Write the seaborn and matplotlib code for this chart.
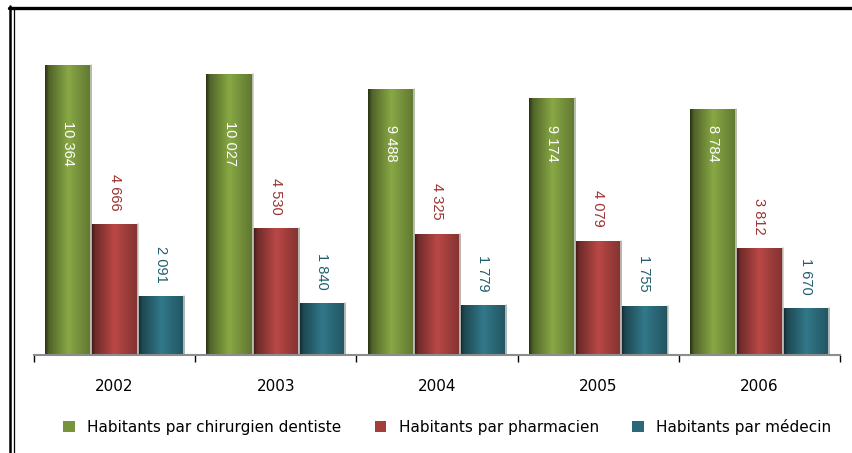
import matplotlib
matplotlib.use("Agg")
import matplotlib.pyplot as plt
from matplotlib.colors import to_rgb
from matplotlib.lines import Line2D
from matplotlib.patches import Patch
import numpy as np
import pandas as pd
import seaborn as sns

# ── Données ───────────────────────────────────────────────────────
annees = ["2002", "2003", "2004", "2005", "2006"]
series = [
    "Habitants par chirurgien dentiste",
    "Habitants par pharmacien",
    "Habitants par médecin",
]
dentiste = [10364, 10027, 9488, 9174, 8784]
pharmacien = [4666, 4530, 4325, 4079, 3812]
medecin = [2091, 1840, 1779, 1755, 1670]

COULEURS = ["#77933C", "#A23F3D", "#2B6978"]
COULEURS_TEXTE = ["white", "#9B3230", "#1F5F6E"]

sns.set_theme(style="white")
plt.rcParams["font.family"] = ["DejaVu Sans"]
plt.rcParams["text.color"] = "black"

df = pd.DataFrame({
    "annee": annees * 3,
    "serie": [series[0]] * 5 + [series[1]] * 5 + [series[2]] * 5,
    "valeur": dentiste + pharmacien + medecin,
})

fig = plt.figure(figsize=(8.52, 4.53), dpi=100)
ax = fig.add_axes([34 / 852, 1 - 355 / 453, 806 / 852, 308 / 453])

sns.barplot(
    data=df, x="annee", y="valeur", hue="serie", hue_order=series,
    palette=COULEURS, saturation=1, width=0.86, legend=False, ax=ax,
    edgecolor="none",
)
ax.set_xlim(-0.5, 4.5)
ax.set_ylim(0, 11000)

# effet cylindre : dégradé horizontal dans chaque barre
pos = [0.0, 0.08, 0.5, 0.7, 1.0]
fac = [0.35, 0.68, 1.15, 1.0, 0.8]
xs = np.linspace(0, 1, 64)
profil = np.interp(xs, pos, fac)
barres = list(ax.patches)
for i, barre in enumerate(barres):
    base = np.array(to_rgb(COULEURS[i // 5]))
    grad = np.clip(profil[:, None] * base[None, :], 0, 1)[None, :, :]
    x0, w, h = barre.get_x(), barre.get_width(), barre.get_height()
    im = ax.imshow(grad, extent=[x0, x0 + w, 0, h], aspect="auto",
                   interpolation="bicubic", zorder=barre.get_zorder() + 0.1)
    im.set_clip_path(barre)
    ax.plot([x0 + w, x0 + w], [0, h], color="#C8CCC8", lw=1.2,
            zorder=barre.get_zorder() + 0.2)
ax.set_xlim(-0.5, 4.5)
ax.set_ylim(0, 11000)


def fmt(v):
    return f"{v:,}".replace(",", " ")


valeurs = [dentiste, pharmacien, medecin]
for i, barre in enumerate(barres):
    s, j = i // 5, i % 5
    xc = barre.get_x() + barre.get_width() / 2
    v = valeurs[s][j]
    if s == 0:
        ax.text(xc, 7550, fmt(v), rotation=-90, ha="center", va="center",
                color="white", fontsize=10.5, family="Liberation Sans", zorder=5)
    else:
        ax.annotate(fmt(v), (xc, v), xytext=(0, 10), textcoords="offset points",
                    rotation=-90, ha="center", va="bottom",
                    color=COULEURS_TEXTE[s], fontsize=10.5,
                    family="Liberation Sans", zorder=5)

# axes
for cote in ["top", "right", "left"]:
    ax.spines[cote].set_visible(False)
ax.spines["bottom"].set_color("#8C8C8C")
ax.spines["bottom"].set_linewidth(1.5)
ax.set_yticks([])
ax.set_xlabel("")
ax.set_ylabel("")
ax.set_xticks(np.arange(-0.5, 5, 1), minor=True)
ax.tick_params(axis="x", which="minor", length=5, width=1, color="black",
               direction="out", bottom=True)
ax.tick_params(axis="x", which="major", length=0, pad=17, labelsize=11,
               labelcolor="black")

# légende
poignees = [Patch(facecolor=c, edgecolor="none") for c in COULEURS]
leg = fig.legend(poignees, series, loc="center", ncol=3,
                 bbox_to_anchor=(0.525, 1 - 427 / 453), frameon=False,
                 handlelength=0.75, handleheight=0.75, handletextpad=0.8,
                 columnspacing=2.2, prop={"size": 11})
for t in leg.get_texts():
    t.set_color("black")

# cadre
fig.add_artist(Line2D([9 / 852, 1], [1 - 7.5 / 453] * 2, color="black", lw=2.4,
                      transform=fig.transFigure))
fig.add_artist(Line2D([10 / 852] * 2, [0, 1 - 6 / 453], color="black", lw=1.8,
                      transform=fig.transFigure))
fig.add_artist(Line2D([13.5 / 852] * 2, [0, 1 - 9 / 453], color="black", lw=0.9,
                      transform=fig.transFigure))

fig.savefig("out.png", dpi=100)
